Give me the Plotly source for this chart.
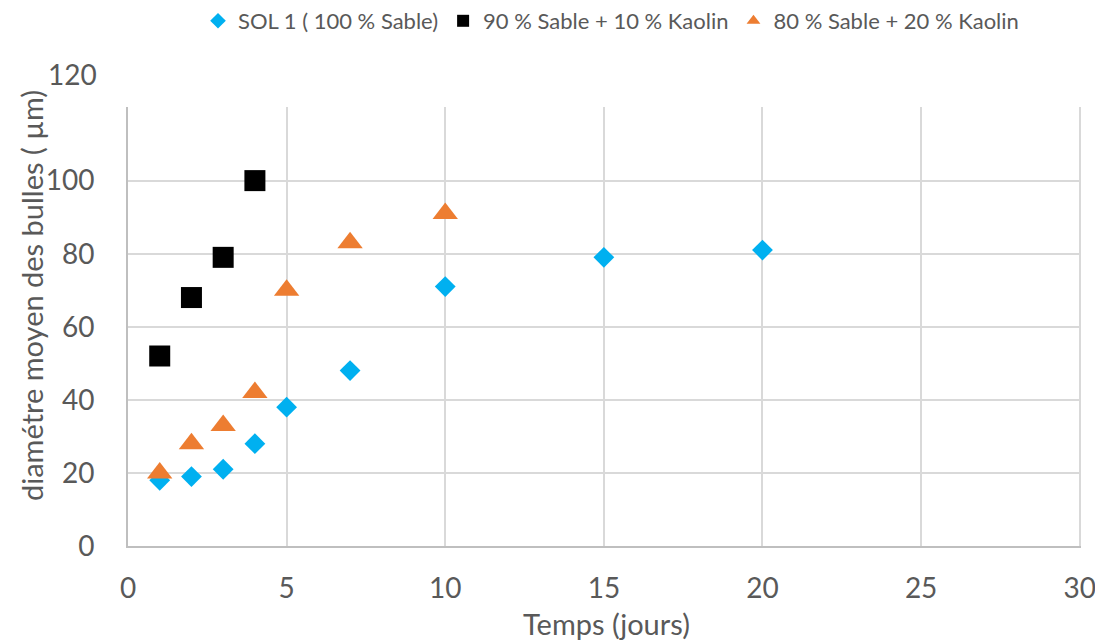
import plotly.graph_objects as go

sol1_x = [1, 2, 3, 4, 5, 7, 10, 15, 20]
sol1_y = [18, 19, 21, 28, 38, 48, 71, 79, 81]
k10_x = [1, 2, 3, 4]
k10_y = [52, 68, 79, 100]
k20_x = [1, 2, 3, 4, 5, 7, 10]
k20_y = [20, 28, 33, 42, 70, 83, 91]

names = ["SOL 1 ( 100 % Sable)", "90 % Sable + 10 % Kaolin", "80 % Sable + 20 % Kaolin"]
x_ticks = [0, 5, 10, 15, 20, 25, 30]
y_ticks = [0, 20, 40, 60, 80, 100, 120]

FONT = "Lato"
GREY = "#595959"
L, R, T, B = 120, 30, 99, 105
PH = 643 - T - B
PW = 1103 - L - R

fig = go.Figure()
fig.add_trace(go.Scatter(x=sol1_x, y=sol1_y, mode="markers", name=names[0],
                         marker=dict(symbol="diamond", size=16, color="#00B0F0")))
fig.add_trace(go.Scatter(x=k10_x, y=k10_y, mode="markers", name=names[1],
                         marker=dict(symbol="square", size=21, color="#000000")))
fig.add_trace(go.Scatter(x=k20_x, y=k20_y, mode="markers", name=names[2],
                         marker=dict(symbol="triangle-up", size=22, color="#ED7D31")))

fig.update_layout(
    width=1103, height=643,
    margin=dict(l=L, r=R, t=T, b=B),
    paper_bgcolor="white", plot_bgcolor="white",
    font=dict(family=FONT, color=GREY),
    legend=dict(orientation="h", x=(603 - L) / PW, xanchor="center",
                y=1 - 13 / 643, yanchor="middle", yref="container",
                font=dict(size=22, color=GREY),
                itemsizing="constant", itemwidth=30, tracegroupgap=0),
    showlegend=True,
)
fig.update_xaxes(range=[0, 30.04], tickvals=x_ticks, ticktext=[str(v) for v in x_ticks],
                 showgrid=True, gridcolor="#D9D9D9", gridwidth=1.5,
                 showline=True, linecolor="#BFBFBF", linewidth=2,
                 zeroline=False, ticks="", ticklabelstandoff=16,
                 tickfont=dict(size=28, color=GREY))
fig.update_yaxes(range=[0, 120.15], tickvals=y_ticks,
                 ticktext=[str(v) for v in y_ticks[:-1]] + [""],
                 showgrid=True, gridcolor="#D9D9D9", gridwidth=1.5,
                 showline=True, linecolor="#BFBFBF", linewidth=2,
                 zeroline=False, ticks="", ticklabelstandoff=26,
                 tickfont=dict(size=28, color=GREY))
# "120" label sits above the plot area in the original
fig.add_annotation(text="120", x=0, xref="paper", xanchor="right", xshift=-29,
                   y=1, yref="paper", yanchor="middle", yshift=33, showarrow=False,
                   font=dict(size=28, color=GREY))
fig.add_annotation(text="Temps (jours)", x=(598 - L) / PW, xref="paper", xanchor="center",
                   y=(643 - B - 615) / PH, yref="paper", yanchor="middle", showarrow=False,
                   font=dict(size=29, color=GREY))
fig.add_annotation(text="diamétre moyen des bulles ( µm)", x=(23 - L) / PW, xref="paper",
                   xanchor="center", y=(643 - B - 288) / PH, yref="paper", yanchor="middle",
                   textangle=-90, showarrow=False, font=dict(size=29, color=GREY))

fig.write_html("out.html")
